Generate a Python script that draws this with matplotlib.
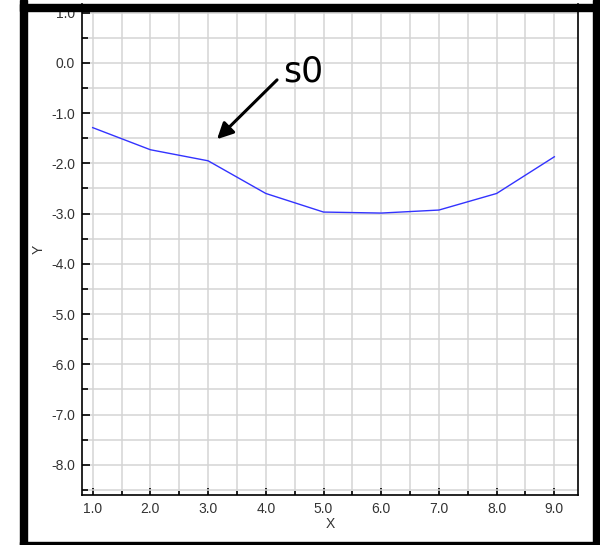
import matplotlib
matplotlib.use("Agg")
import matplotlib.pyplot as plt
from matplotlib.patches import Rectangle
from matplotlib.ticker import MultipleLocator

x_values = [1, 2, 3, 4, 5, 6, 7, 8, 9]
y_values = [-1.29, -1.73, -1.95, -2.6, -2.97, -2.99, -2.93, -2.6, -1.87]
series_name = "s0"


def main() -> None:
    fig = plt.figure(figsize=(6.0, 5.45), dpi=100)
    ax = fig.add_axes([82 / 600, 1 - 495 / 545, 496 / 600, 491 / 545])

    ax.plot(x_values, y_values, color="#3333ff", linewidth=1.0, zorder=3)

    ax.set_xlim(0.815, 9.41)
    ax.set_ylim(-8.6, 1.17)
    ax.xaxis.set_major_locator(MultipleLocator(1.0))
    ax.xaxis.set_minor_locator(MultipleLocator(0.5))
    ax.yaxis.set_major_locator(MultipleLocator(1.0))
    ax.yaxis.set_minor_locator(MultipleLocator(0.5))
    ax.xaxis.set_major_formatter(lambda v, _: f"{v:.1f}")
    ax.yaxis.set_major_formatter(lambda v, _: f"{v:.1f}")

    ax.grid(True, which="both", color="#d4d4d4", linewidth=1.1, zorder=0)
    ax.set_axisbelow(True)
    ax.tick_params(which="both", direction="in", color="black", width=1.2,
                   labelsize=10, labelcolor="#333333", pad=5)
    ax.tick_params(axis="y", which="major", length=6)
    ax.tick_params(axis="y", which="minor", length=4)
    ax.tick_params(axis="x", which="major", length=5)
    ax.tick_params(axis="x", which="minor", length=3)
    for label in ax.get_xticklabels() + ax.get_yticklabels():
        label.set_fontfamily("Liberation Sans")
    for side in ("left", "bottom", "right"):
        ax.spines[side].set_linewidth(1.2)
    ax.spines["top"].set_visible(False)

    ax.set_xlabel("X", fontsize=10, color="#333333", family="Liberation Sans",
                  labelpad=1)
    ax.set_ylabel("Y", fontsize=10, color="#333333", family="Liberation Sans",
                  labelpad=4)

    # label with arrow pointing at the third point of the line
    px, py = x_values[2], y_values[2]
    ax.annotate("", xy=(px + 0.155, py + 0.43), xytext=(px + 1.195, py + 1.61),
                arrowprops=dict(arrowstyle="-|>", color="black", lw=2.2,
                                mutation_scale=24, shrinkA=0, shrinkB=0),
                zorder=5)
    ax.text(px + 1.3, py + 1.57, series_name, fontsize=25, family="DejaVu Sans",
            ha="left", va="baseline", zorder=5)

    # black frame around the picture
    frame = [(20, 0, 7, 545), (20, 4, 580, 7), (593, 0, 7, 545), (20, 542, 580, 3)]
    for x0, y0, w, h in frame:
        fig.patches.append(Rectangle((x0 / 600, 1 - (y0 + h) / 545), w / 600, h / 545,
                                     transform=fig.transFigure, color="black",
                                     zorder=10))

    fig.savefig("out.png", dpi=100)


if __name__ == "__main__":
    main()
